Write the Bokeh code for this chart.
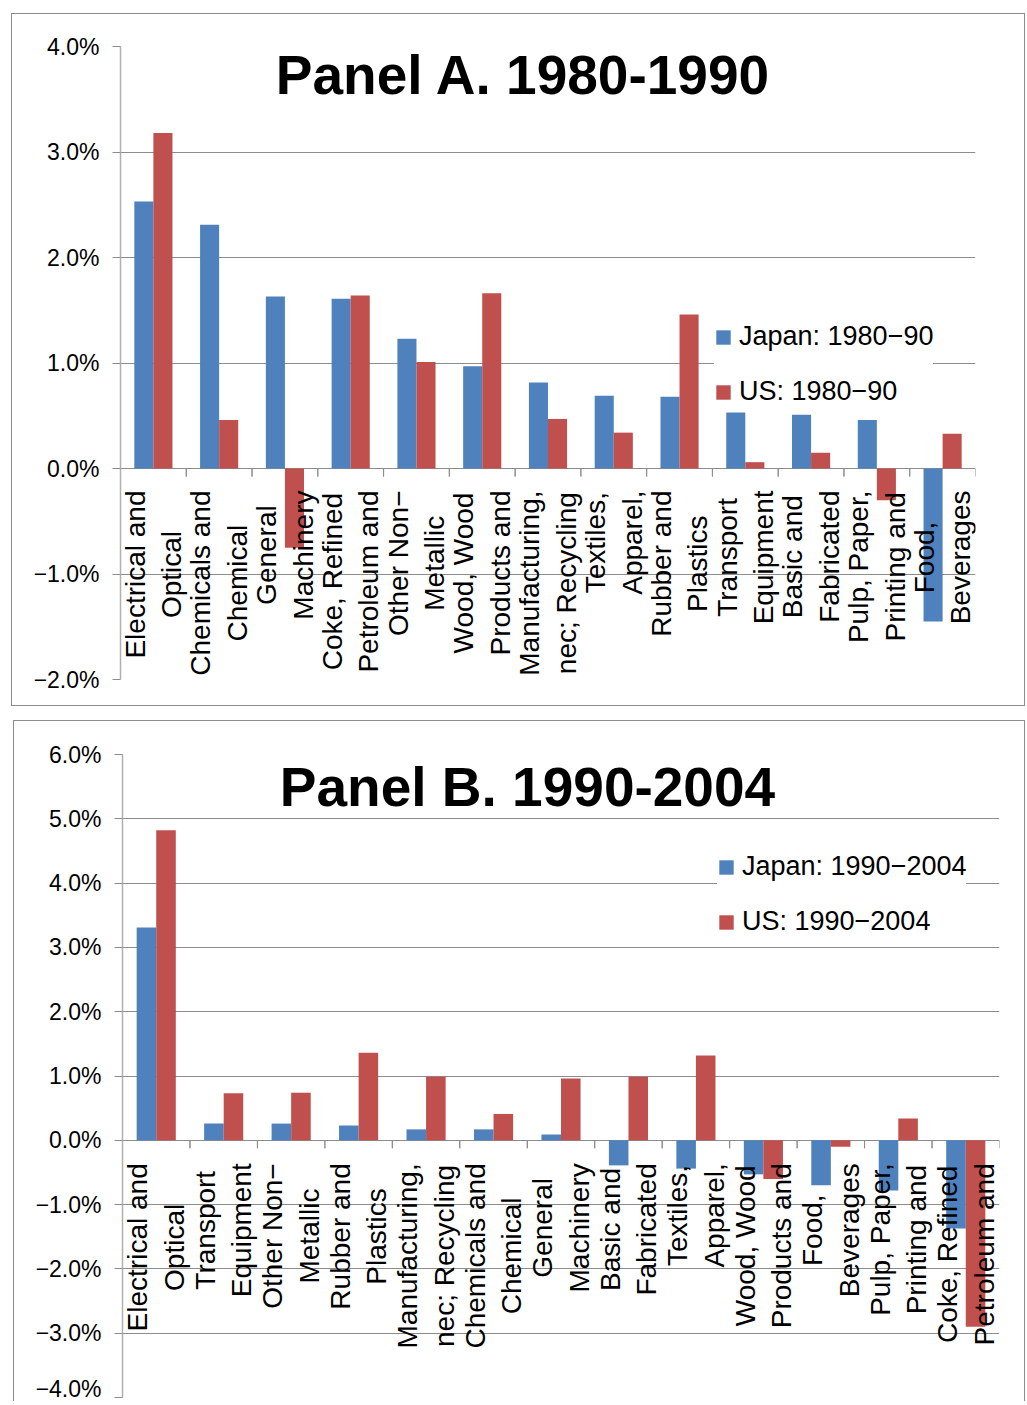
from math import pi
from bokeh.plotting import figure
from bokeh.models import (ColumnDataSource, FactorRange, Range1d, FixedTicker,
                          Legend, LegendItem, Label, Spacer)
from bokeh.transform import dodge
from bokeh.layouts import column, row
from bokeh.core.properties import value
from bokeh.embed import file_html
from bokeh.resources import INLINE

# ---------------- data ----------------
cats_a = ["Electrical and\nOptical", "Chemicals and\nChemical", "General\nMachinery",
          "Coke, Refined\nPetroleum and", "Other Non\u2212\nMetallic", "Wood, Wood\nProducts and",
          "Manufacturing,\nnec; Recycling", "Textiles,\nApparel,", "Rubber and\nPlastics",
          "Transport\nEquipment", "Basic and\nFabricated", "Pulp, Paper,\nPrinting and",
          "Food,\nBeverages"]
japan_a = [2.53, 2.31, 1.63, 1.61, 1.23, 0.97, 0.815, 0.69, 0.68, 0.53, 0.51, 0.46, -1.45]
us_a = [3.18, 0.46, -0.75, 1.64, 1.01, 1.66, 0.47, 0.34, 1.46, 0.06, 0.15, -0.30, 0.33]
legend_a = ["Japan: 1980\u221290", "US: 1980\u221290"]
title_a = "Panel A. 1980-1990"
yticks_a = [-2, -1, 0, 1, 2, 3, 4]
ylabels_a = ["\u22122.0%", "\u22121.0%", "0.0%", "1.0%", "2.0%", "3.0%", "4.0%"]

cats_b = ["Electrical and\nOptical", "Transport\nEquipment", "Other Non\u2212\nMetallic",
          "Rubber and\nPlastics", "Manufacturing,\nnec; Recycling", "Chemicals and\nChemical",
          "General\nMachinery", "Basic and\nFabricated", "Textiles,\nApparel,",
          "Wood, Wood\nProducts and", "Food,\nBeverages", "Pulp, Paper,\nPrinting and",
          "Coke, Refined\nPetroleum and"]
japan_b = [3.31, 0.26, 0.26, 0.23, 0.17, 0.17, 0.09, -0.39, -0.44, -0.53, -0.70, -0.78, -1.37]
us_b = [4.82, 0.73, 0.74, 1.36, 0.99, 0.41, 0.96, 0.99, 1.32, -0.60, -0.10, 0.34, -2.90]
legend_b = ["Japan: 1990\u22122004", "US: 1990\u22122004"]
title_b = "Panel B. 1990-2004"
yticks_b = [-4, -3, -2, -1, 0, 1, 2, 3, 4, 5, 6]
ylabels_b = ["\u22124.0%", "\u22123.0%", "\u22122.0%", "\u22121.0%", "0.0%", "1.0%",
             "2.0%", "3.0%", "4.0%", "5.0%", "6.0%"]

# ---------------- style ----------------
FONT = "Liberation Sans"
BLUE = "#4F81BD"
RED = "#C0504D"
GRID = "#8c8c8c"
AXIS = "#b0b0b0"


def make_panel(cats, jp, us, leg, title, yticks, ylabels, yr, width, height,
               borders, title_xy, legend_loc, tick_len, label_off, box_style):
    src = ColumnDataSource(dict(cat=cats, jp=jp, us=us))
    p = figure(x_range=FactorRange(factors=cats), y_range=Range1d(*yr),
               width=width, height=height, output_backend="svg",
               toolbar_location=None, x_axis_location=None,
               min_border_left=borders[0], min_border_right=borders[1],
               min_border_top=borders[2], min_border_bottom=borders[3])
    p.outline_line_color = None
    p.xgrid.visible = False
    p.ygrid.grid_line_color = GRID
    p.ygrid.grid_line_width = 1
    p.ygrid.ticker = FixedTicker(ticks=yticks)

    ax = p.yaxis[0]
    ax.ticker = FixedTicker(ticks=yticks)
    ax.major_label_overrides = {t: l for t, l in zip(yticks, ylabels)}
    ax.axis_line_color = AXIS
    ax.axis_line_width = 1.5
    ax.major_tick_in = 0
    ax.major_tick_out = 8
    ax.major_tick_line_color = GRID
    ax.minor_tick_line_color = None
    ax.major_label_standoff = 13
    ax.major_label_text_font = FONT
    ax.major_label_text_font_size = "23px"
    ax.major_label_text_color = "black"

    r1 = p.vbar(x=dodge("cat", -0.145, range=p.x_range), top="jp", width=0.29,
                source=src, fill_color=BLUE, line_color=None)
    r2 = p.vbar(x=dodge("cat", 0.145, range=p.x_range), top="us", width=0.29,
                source=src, fill_color=RED, line_color=None)

    # category boundary tick marks below the zero line
    for off in (-0.5, 0.5):
        p.segment(x0=dodge("cat", off, range=p.x_range), y0=0,
                  x1=dodge("cat", off, range=p.x_range), y1=-tick_len,
                  source=src, line_color=GRID, line_width=1)

    p.text(x="cat", y=0, text="cat", source=src, angle=pi / 2, y_offset=label_off,
           anchor=value("center_right"), text_align="center", text_baseline="middle",
           text_font=value(FONT), text_font_size="28px", text_line_height=1.18,
           text_color="black")

    p.add_layout(Label(x=title_xy[0], y=title_xy[1], text=title, text_align="center",
                       text_baseline="alphabetic", text_font=FONT,
                       text_font_size="55px", text_font_style="bold",
                       text_color="black"))

    legend = Legend(items=[LegendItem(label=leg[0], renderers=[r1]),
                           LegendItem(label=leg[1], renderers=[r2])],
                    location=legend_loc, margin=0, padding=10, spacing=24,
                    glyph_width=18, glyph_height=18, label_height=30,
                    label_standoff=7, label_text_font=FONT,
                    label_text_font_size="27px", label_text_color="black",
                    background_fill_color="white", background_fill_alpha=1.0,
                    border_line_color=None)
    p.add_layout(legend)
    p.styles = box_style
    return p


pa = make_panel(cats_a, japan_a, us_a, legend_a, title_a, yticks_a, ylabels_a,
                (-2.0, 4.0), 1014, 693, (108, 51, 32, 28), (6.127, 3.726),
                (594, 272), 0.076, 22,
                {"border": "1px solid #8c8c8c"})
pb = make_panel(cats_b, japan_b, us_b, legend_b, title_b, yticks_b, ylabels_b,
                (-4.0, 6.0), 1012, 681, (108, 27, 33, 5), (6.003, 5.50),
                (595, 460), 0.124, 23,
                {"border": "1px solid #8c8c8c", "border-bottom": "none"})

layout = column(Spacer(height=13),
                row(Spacer(width=11), pa),
                Spacer(height=14),
                row(Spacer(width=13), pb))
open("out.html", "w").write(file_html(layout, INLINE))
